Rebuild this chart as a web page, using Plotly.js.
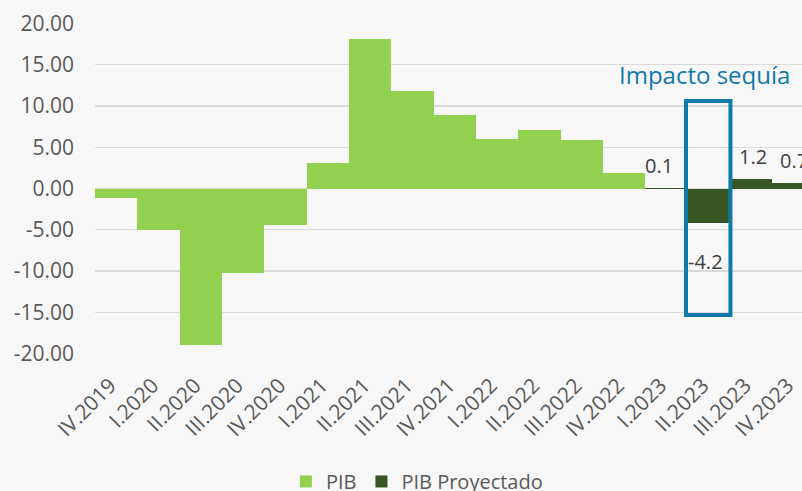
<!DOCTYPE html>
<html>
<head>
<meta charset="utf-8">
<script src="https://cdn.plot.ly/plotly-3.0.1.min.js"></script>
<style>html,body{margin:0;padding:0;background:#f7f7f7;}#chart{width:802px;height:491px;}</style>
</head>
<body>
<div id="chart"></div>
<script>
// ---- data ----
const categories = ["IV.2019","I.2020","II.2020","III.2020","IV.2020","I.2021","II.2021","III.2021","IV.2021","I.2022","II.2022","III.2022","IV.2022","I.2023","II.2023","III.2023","IV.2023"];
const pib = [-1.2, -5.0, -19.0, -10.2, -4.4, 3.1, 18.1, 11.8, 8.9, 6.0, 7.1, 5.9, 1.9, null, null, null, null];
const pibProyectado = [null, null, null, null, null, null, null, null, null, null, null, null, null, 0.1, -4.2, 1.2, 0.7];
const yTickVals = [-20, -15, -10, -5, 0, 5, 10, 15, 20];
const yTickText = ["-20.00","-15.00","-10.00","-5.00","0.00","5.00","10.00","15.00","20.00"];
const highlightLabel = "Impacto sequía";
const highlightCategory = "II.2023";

// ---- styles ----
const FONT = "Open Sans, Noto Sans, sans-serif";
const GREY = "#595959";
const LABEL = "#404040";
const BLUE = "#0f79a9";
const labelDx = {"I.2023": -8, "II.2023": -3, "III.2023": 2, "IV.2023": 0};

const traces = [
  {type: "bar", name: "PIB", x: categories, y: pib, marker: {color: "#92d050", line: {width: 0}}, hoverinfo: "x+y"},
  {type: "bar", name: "PIB Proyectado", x: categories, y: pibProyectado, marker: {color: "#375623", line: {width: 0}}, hoverinfo: "x+y"}
];

const annotations = [];
categories.forEach((c, i) => {
  const v = pibProyectado[i];
  if (v === null) return;
  annotations.push({
    x: c, y: v, xref: "x", yref: "y", text: String(v),
    showarrow: false, font: {family: FONT, size: 20, color: LABEL},
    xshift: labelDx[c] || 0, yshift: v >= 0 ? 22 : -38
  });
});
const hi = categories.indexOf(highlightCategory);
annotations.push({
  x: hi - 0.11, y: 13.8, xref: "x", yref: "y", text: highlightLabel, showarrow: false,
  font: {family: FONT, size: 24, color: BLUE}
});

const layout = {
  width: 802, height: 491,
  paper_bgcolor: "#f7f7f7", plot_bgcolor: "#f7f7f7",
  margin: {l: 95, r: 0, t: 23, b: 137, autoexpand: false},
  barmode: "overlay", bargap: 0,
  font: {family: FONT, color: GREY},
  showlegend: true,
  legend: {orientation: "h", x: 0.27, xanchor: "left", y: -0.385, yanchor: "middle",
           font: {family: FONT, size: 20, color: GREY}, bgcolor: "rgba(0,0,0,0)"},
  xaxis: {type: "category", range: [-0.5, 16.2], tickangle: -45, ticks: "", showgrid: false,
          tickfont: {family: FONT, size: 21, color: GREY}, ticklabelstandoff: 14, ticklabelshift: -6,
          automargin: false, fixedrange: true},
  yaxis: {range: [-20.03, 20.03], tickvals: yTickVals, ticktext: yTickText, showgrid: true,
          gridcolor: "#d9d9d9", gridwidth: 1.3, zeroline: true, zerolinecolor: "#d9d9d9", zerolinewidth: 1.3,
          ticks: "", ticklabelstandoff: 20, tickfont: {family: FONT, size: 21, color: GREY}, automargin: false, fixedrange: true},
  shapes: [{type: "rect", xref: "x", yref: "y", x0: hi - 0.54, x1: hi + 0.51, y0: -15.3, y1: 10.6,
            line: {color: BLUE, width: 4}, fillcolor: "rgba(0,0,0,0)", layer: "above"}],
  annotations: annotations
};

Plotly.newPlot("chart", traces, layout, {displayModeBar: false, staticPlot: true});
</script>
</body>
</html>
